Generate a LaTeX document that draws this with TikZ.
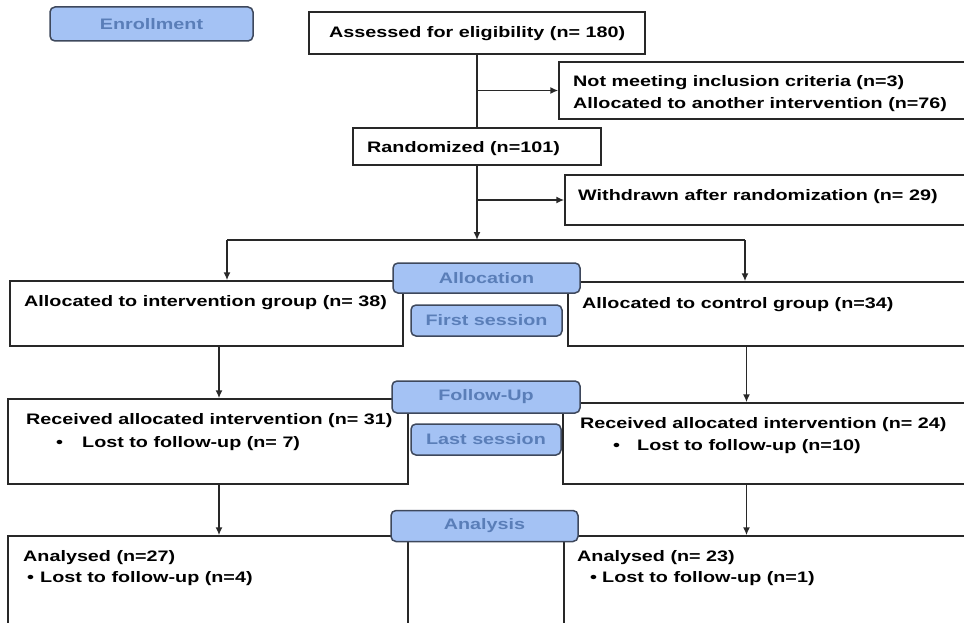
\documentclass[tikz,border=0pt]{standalone}
\usepackage{fontspec}
\setmainfont{Liberation Sans}[FakeStretch=1.3]
\usetikzlibrary{arrows.meta,positioning}

\definecolor{pillblue}{RGB}{164,194,244}
\definecolor{pilltext}{RGB}{90,126,184}
\definecolor{pillline}{RGB}{62,72,92}
\definecolor{boxline}{RGB}{40,40,40}

\tikzset{
	box/.style={draw=boxline,line width=1.5pt,fill=white,inner sep=0pt},
	pill/.style={draw=pillline,line width=1.5pt,fill=pillblue,rounded corners=5pt,inner sep=0pt,
		text=pilltext,font=\bfseries\fontsize{15.2}{18}\selectfont},
	txt/.style={anchor=base west,inner sep=0pt,font=\bfseries\fontsize{15.2}{18}\selectfont},
	arr/.style={draw=boxline,line width=1.5pt,-{Latex[length=8pt,width=7pt]}},
	lin/.style={draw=boxline,line width=1.5pt},
}

\begin{document}
\begin{tikzpicture}[x=1pt,y=-1pt]
			\useasboundingbox (0,0) rectangle (964,623);
			%% boxes
			\node[box,minimum width=336,minimum height=42] (assess) at (477,33) {};
			\node[box,minimum width=409,minimum height=57] (excl) at (763.5,90.5) {};
			\node[box,minimum width=248,minimum height=37] (rand) at (477,146.5) {};
			\node[box,minimum width=403,minimum height=50] (withd) at (766.5,200) {};
			\node[box,minimum width=393,minimum height=65] (allocL) at (206.5,313.5) {};
			\node[box,minimum width=400,minimum height=64] (allocR) at (768,314) {};
			\node[box,minimum width=400,minimum height=85] (recvL) at (208,441.5) {};
			\node[box,minimum width=405,minimum height=81] (recvR) at (765.5,443.5) {};
			\node[box,minimum width=400,minimum height=94] (anaL) at (208,583) {};
			\node[box,minimum width=404,minimum height=94] (anaR) at (766,583) {};
			% texts of the boxes
			\node[txt] (t-assess) at (329,37.5) {Assessed for eligibility (n= 180)};
			\node[txt] (t-excl1) at (573,87) {Not meeting inclusion criteria (n=3)};
			\node[txt] (t-excl2) at (573,108.5) {Allocated to another intervention (n=76)};
			\node[txt] (t-rand) at (367,153) {Randomized (n=101)};
			\node[txt] (t-withd) at (578,200.5) {Withdrawn after randomization (n= 29)};
			\node[txt] (t-allocL) at (24,306) {Allocated to intervention group (n= 38)};
			\node[txt] (t-allocR) at (582,308) {Allocated to control group (n=34)};
			\node[txt] (t-recvL) at (26,424.5) {Received allocated intervention (n= 31)};
			\node[txt] (t-lostL) at (56,447.5) {\makebox[26pt][l]{\textbullet}Lost to follow-up (n= 7)};
			\node[txt] (t-recvR) at (580,428) {Received allocated intervention (n= 24)};
			\node[txt] (t-lostR) at (613,450.5) {\makebox[24pt][l]{\textbullet}Lost to follow-up (n=10)};
			\node[txt] (t-anaL) at (23,561) {Analysed (n=27)};
			\node[txt] (t-anaLlost) at (27,582.5) {\makebox[13pt][l]{\textbullet}Lost to follow-up (n=4)};
			\node[txt] (t-anaR) at (577,561) {Analysed (n= 23)};
			\node[txt] (t-anaRlost) at (590,582.5) {\makebox[12pt][l]{\textbullet}Lost to follow-up (n=1)};
			% connectors
			\coordinate (split) at (477,240);
			\coordinate (splitL) at (227,240);
			\coordinate (splitR) at (745,240);
			\coordinate (colL) at (219,0);
			\coordinate (colR) at (746.5,0);
			\draw[lin] (assess.south) -- (rand.north);
			\draw[arr] (assess.south |- excl.west) -- (excl.west);
			\draw[arr] (split |- withd.west) -- (withd.west);
			\draw[arr] (rand.south) -- (split);
			\draw[lin] (splitL) -- (splitR);
			\draw[arr] (splitL) -- (splitL |- allocL.north);
			\draw[arr] (splitR) -- (splitR |- allocR.north);
			\draw[arr] (colL |- allocL.south) -- (colL |- recvL.north);
			\draw[arr] (colR |- allocR.south) -- (colR |- recvR.north);
			\draw[arr] (colL |- recvL.south) -- (colL |- anaL.north);
			\draw[arr] (colR |- recvR.south) -- (colR |- anaR.north);
			%% stages
			\node[pill,minimum width=203,minimum height=34] (enrol) at (151.5,24) {Enrollment};
			\node[pill,minimum width=187,minimum height=30] (allocP) at (486.5,278) {Allocation};
			\node[pill,minimum width=151,minimum height=31] (firstP) at (486.5,320.5) {First session};
			\node[pill,minimum width=188,minimum height=32] (follP) at (486,397) {Follow-Up};
			\node[pill,minimum width=150,minimum height=31] (lastP) at (486,439.5) {Last session};
			\node[pill,minimum width=187,minimum height=31] (anaP) at (484.5,526) {Analysis};
		\end{tikzpicture}
\end{document}
